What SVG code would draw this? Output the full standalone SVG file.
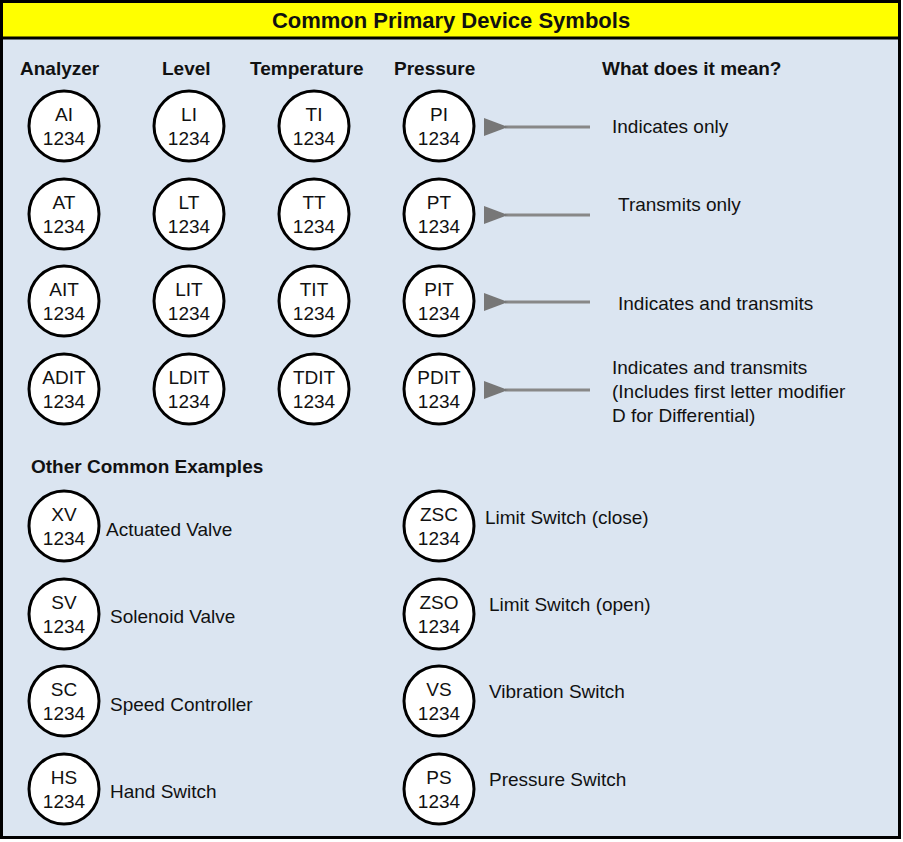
<svg xmlns="http://www.w3.org/2000/svg" width="903" height="842" viewBox="0 0 903 842">
<style>
text{font-family:"Liberation Sans",Arial,sans-serif;fill:#111}
.h{font-weight:bold;font-size:19px}
.c{font-size:19px;text-anchor:middle}
.l{font-size:19px}
circle{fill:#fff;stroke:#000;stroke-width:3}
.a{stroke:#888;stroke-width:3}
</style>
<defs><marker id="ar" markerWidth="8" markerHeight="6" refX="1" refY="3" orient="auto" markerUnits="strokeWidth"><path d="M8,0L0,3L8,6z" fill="#777"/></marker></defs>
<rect x="1.5" y="1.5" width="898" height="836" fill="#dbe5f1" stroke="#000" stroke-width="3"/>
<rect x="3" y="3" width="895" height="34" fill="#ffff00"/>
<line x1="1" y1="38" x2="900" y2="38" stroke="#000" stroke-width="3"/>
<text x="451" y="28" class="h" text-anchor="middle" font-size="22" style="font-size:22px">Common Primary Device Symbols</text>
<text x="20" y="75" class="h">Analyzer</text>
<text x="162" y="75" class="h">Level</text>
<text x="250" y="75" class="h">Temperature</text>
<text x="394" y="75" class="h">Pressure</text>
<text x="602" y="75" class="h">What does it mean?</text>
<text x="31" y="473" class="h">Other Common Examples</text>
<g id="grid">
<g id="AI"><circle cx="64" cy="126" r="35"/><text class="c" x="64" y="121">AI</text><text class="c" x="64" y="145">1234</text></g>
<g id="LI"><circle cx="189" cy="126" r="35"/><text class="c" x="189" y="121">LI</text><text class="c" x="189" y="145">1234</text></g>
<g id="TI"><circle cx="314" cy="126" r="35"/><text class="c" x="314" y="121">TI</text><text class="c" x="314" y="145">1234</text></g>
<g id="PI"><circle cx="439" cy="126" r="35"/><text class="c" x="439" y="121">PI</text><text class="c" x="439" y="145">1234</text></g>
<g id="AT"><circle cx="64" cy="214" r="35"/><text class="c" x="64" y="209">AT</text><text class="c" x="64" y="233">1234</text></g>
<g id="LT"><circle cx="189" cy="214" r="35"/><text class="c" x="189" y="209">LT</text><text class="c" x="189" y="233">1234</text></g>
<g id="TT"><circle cx="314" cy="214" r="35"/><text class="c" x="314" y="209">TT</text><text class="c" x="314" y="233">1234</text></g>
<g id="PT"><circle cx="439" cy="214" r="35"/><text class="c" x="439" y="209">PT</text><text class="c" x="439" y="233">1234</text></g>
<g id="AIT"><circle cx="64" cy="301" r="35"/><text class="c" x="64" y="296">AIT</text><text class="c" x="64" y="320">1234</text></g>
<g id="LIT"><circle cx="189" cy="301" r="35"/><text class="c" x="189" y="296">LIT</text><text class="c" x="189" y="320">1234</text></g>
<g id="TIT"><circle cx="314" cy="301" r="35"/><text class="c" x="314" y="296">TIT</text><text class="c" x="314" y="320">1234</text></g>
<g id="PIT"><circle cx="439" cy="301" r="35"/><text class="c" x="439" y="296">PIT</text><text class="c" x="439" y="320">1234</text></g>
<g id="ADIT"><circle cx="64" cy="389" r="35"/><text class="c" x="64" y="384">ADIT</text><text class="c" x="64" y="408">1234</text></g>
<g id="LDIT"><circle cx="189" cy="389" r="35"/><text class="c" x="189" y="384">LDIT</text><text class="c" x="189" y="408">1234</text></g>
<g id="TDIT"><circle cx="314" cy="389" r="35"/><text class="c" x="314" y="384">TDIT</text><text class="c" x="314" y="408">1234</text></g>
<g id="PDIT"><circle cx="439" cy="389" r="35"/><text class="c" x="439" y="384">PDIT</text><text class="c" x="439" y="408">1234</text></g>
</g>
<g id="connectors">
<line class="a" x1="590" y1="127" x2="505" y2="127" marker-end="url(#ar)"/>
<line class="a" x1="590" y1="215" x2="505" y2="215" marker-end="url(#ar)"/>
<line class="a" x1="590" y1="302" x2="505" y2="302" marker-end="url(#ar)"/>
<line class="a" x1="590" y1="390" x2="505" y2="390" marker-end="url(#ar)"/>
</g>
<text class="l" x="612" y="133">Indicates only</text>
<text class="l" x="618" y="211">Transmits only</text>
<text class="l" x="618" y="310">Indicates and transmits</text>
<text class="l" x="612" y="374">Indicates and transmits</text>
<text class="l" x="612" y="398">(Includes first letter modifier</text>
<text class="l" x="612" y="422">D for Differential)</text>
<g id="other">
<g id="XV"><circle cx="64" cy="526" r="35"/><text class="c" x="64" y="521">XV</text><text class="c" x="64" y="545">1234</text><text class="l" x="106" y="536">Actuated Valve</text></g>
<g id="SV"><circle cx="64" cy="614" r="35"/><text class="c" x="64" y="609">SV</text><text class="c" x="64" y="633">1234</text><text class="l" x="110" y="623">Solenoid Valve</text></g>
<g id="SC"><circle cx="64" cy="701" r="35"/><text class="c" x="64" y="696">SC</text><text class="c" x="64" y="720">1234</text><text class="l" x="110" y="711">Speed Controller</text></g>
<g id="HS"><circle cx="64" cy="789" r="35"/><text class="c" x="64" y="784">HS</text><text class="c" x="64" y="808">1234</text><text class="l" x="110" y="798">Hand Switch</text></g>
<g id="ZSC"><circle cx="439" cy="526" r="35"/><text class="c" x="439" y="521">ZSC</text><text class="c" x="439" y="545">1234</text><text class="l" x="485" y="524">Limit Switch (close)</text></g>
<g id="ZSO"><circle cx="439" cy="614" r="35"/><text class="c" x="439" y="609">ZSO</text><text class="c" x="439" y="633">1234</text><text class="l" x="489" y="611">Limit Switch (open)</text></g>
<g id="VS"><circle cx="439" cy="701" r="35"/><text class="c" x="439" y="696">VS</text><text class="c" x="439" y="720">1234</text><text class="l" x="489" y="698">Vibration Switch</text></g>
<g id="PS"><circle cx="439" cy="789" r="35"/><text class="c" x="439" y="784">PS</text><text class="c" x="439" y="808">1234</text><text class="l" x="489" y="786">Pressure Switch</text></g>
</g>
</svg>
